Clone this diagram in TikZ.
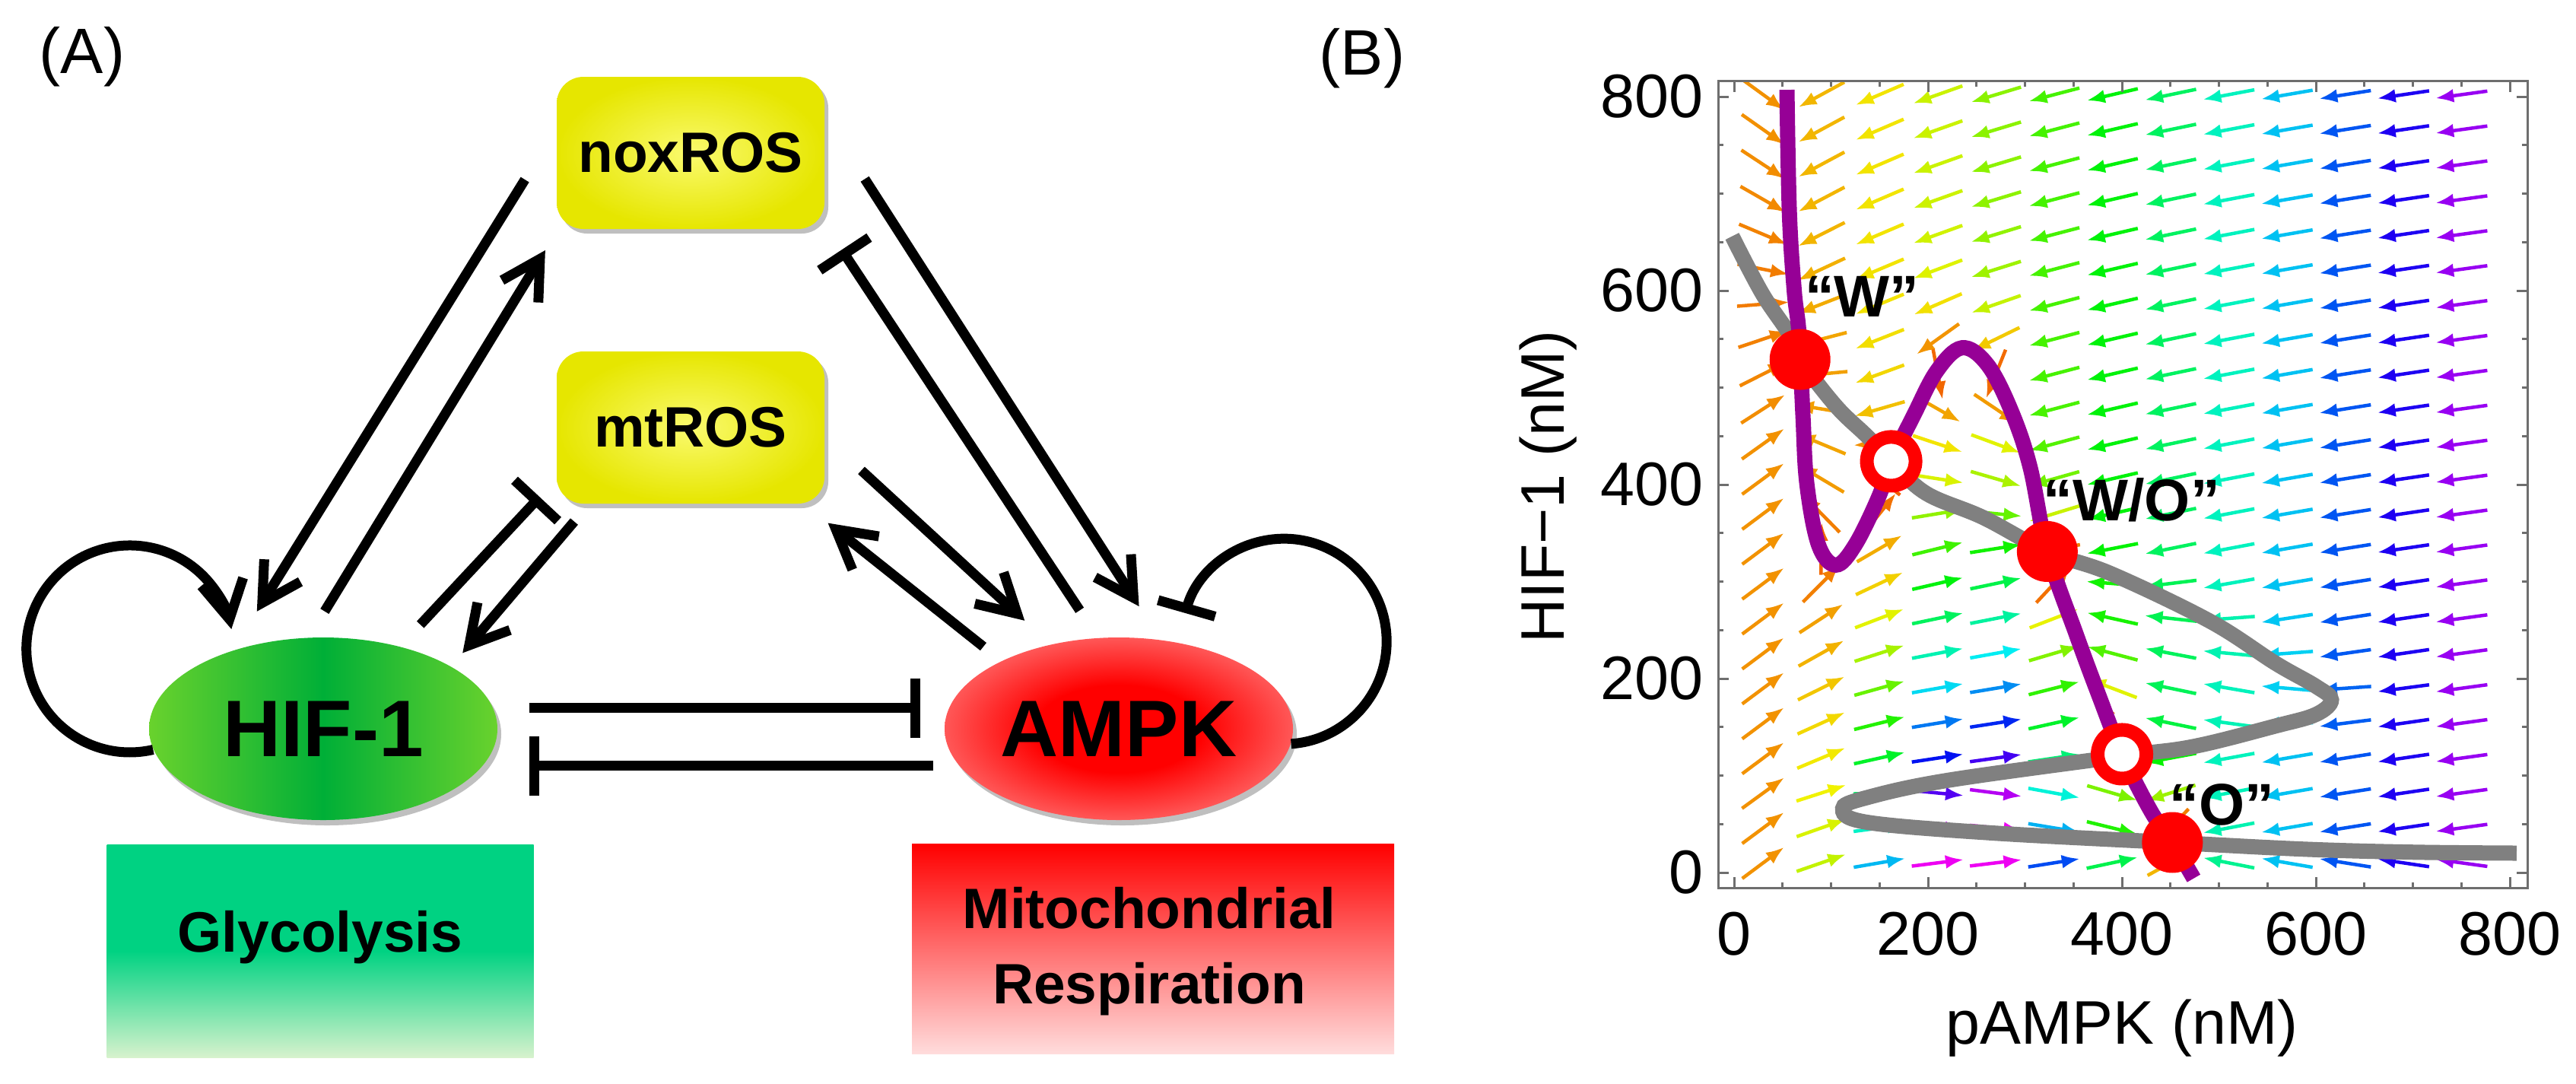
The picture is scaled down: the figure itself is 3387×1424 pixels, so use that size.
\documentclass[tikz,border=0pt]{standalone}
\usepackage{fontspec}
\setmainfont{Liberation Sans}
\usetikzlibrary{arrows.meta,shadows,shapes.geometric}

% colours that the shading needs
\definecolor{ampkred}{RGB}{255,0,0}
\definecolor{ampkpale}{RGB}{255,228,228}
\pgfdeclareradialshading{ampkglow}{\pgfpointorigin}{color(0bp)=(ampkred); color(12bp)=(ampkred); color(46bp)=(ampkpale); color(50bp)=(ampkpale)}

% piecewise linear lookup in a list of knots a/b
\newcommand\pwlookup[2]{%
  \gdef\pwres{0}\gdef\pwlx{-5000}\gdef\pwly{0}%
  \foreach \kx/\ky in #2 {%
    \ifdim #1pt<\kx pt\relax
      \ifdim #1pt<\pwlx pt\relax\else
        \pgfmathparse{\pwly+(\ky-(\pwly))/(\kx-(\pwlx))*(#1-(\pwlx))}%
        \xdef\pwres{\pgfmathresult}%
      \fi
    \fi
    \xdef\pwlx{\kx}\xdef\pwly{\ky}%
  }%
}
% pAMPK nullcline (as y of x) and HIF-1 nullcline (as x of y)
\def\purpleknots{-100/2000, 40/2000, 54/810, 57/680, 67/555, 71/471, 75/401, 87/338, 105/317, 125/338, 149/387, 162/424, 185/471, 209/517, 235/541, 261/524, 285/478, 305/419, 323/331, 353/245, 376/183, 400/122, 430/63, 452/31, 474/-6, 900/-1150}
\def\grayknots{-100/2500, 15/1000, 20/807, 23/590, 31/452, 41/263, 52/136, 66/112, 77/136, 95/220, 120/400, 130/474, 151/558, 178/616, 192/600, 216/558, 259/491, 308/389, 331/323, 366/257, 391/198, 424/162, 450/137, 481/105, 529/68, 555/57, 597/29, 656/-7, 900/-160}
% one short stream arrow at (#1,#2)
\newcommand\streamarrow[2]{%
  \pwlookup{#1}{\purpleknots}\let\yp\pwres
  \pwlookup{#2}{\grayknots}\let\gxn\pwres
  \pgfmathsetmacro\boost{0.004*max(0,min(900,\yp)-#2-100)*min(1,max(0,(#1-60)/80))}%
  \pgfmathsetmacro\vx{(0.35+#1/380)*tanh(max(-4,min(4,(\yp-#2)/60)))+\boost}%
  \pgfmathsetmacro\vy{0.32*tanh(max(-4,min(4,(\gxn-#1)/60)))}%
  \pgfmathsetmacro\spd{sqrt(\vx*\vx+\vy*\vy)}%
  \pgfmathsetmacro\ux{27*\vx/(\spd+0.0001)}%
  \pgfmathsetmacro\uy{27*\vy/(\spd+0.0001)}%
  \pgfmathsetmacro\hue{0.05+0.78*min(1,(\spd/2.45+0.001)^1.8)}%
  \pgfmathsetmacro\sxa{#1-\ux}\pgfmathsetmacro\sya{#2-\uy}%
  \pgfmathsetmacro\sxb{#1+\ux}\pgfmathsetmacro\syb{#2+\uy}%
  \definecolor{streamcol}{hsb}{\hue,1,0.95}%
  \draw[streamline, streamcol] (\sxa,\sya) -- (\sxb,\syb);%
}

\begin{document}
\begin{tikzpicture}[x=0.1mm, y=-0.1mm,
  every node/.style={align=center, inner sep=0pt},
  act/.style={line width=1.3mm, -{Straight Barb[length=5mm,width=5.6mm]}},
  inh/.style={line width=1.3mm, -{Bar[width=7.8mm]}},
  rosbox/.style={rectangle, rounded corners=3.5mm, minimum width=35.2mm, minimum height=20mm,
    inner color=rosin, outer color=rosout,
    drop shadow={shadow xshift=0.5mm, shadow yshift=-0.6mm, fill=black, opacity=0.25},
    font=\fontsize{21.3pt}{25pt}\selectfont\bfseries},
  hubnode/.style={ellipse, minimum width=45.8mm, minimum height=24mm,
    drop shadow={shadow xshift=0.5mm, shadow yshift=-0.7mm, fill=black, opacity=0.25},
    font=\fontsize{30pt}{34pt}\selectfont\bfseries},
  fatebox/.style={rectangle, font=\fontsize{21.3pt}{28.2pt}\selectfont\bfseries},
  panellab/.style={font=\fontsize{24pt}{28pt}\selectfont},
  ticklab/.style={font=\fontsize{23pt}{27pt}\selectfont},
  fplabel/.style={font=\fontsize{22pt}{26pt}\selectfont\bfseries},
  streamline/.style={line width=0.45mm, -{Latex[length=2.4mm,width=1.8mm]}},
  plotframe/.style={draw=framegray, line width=0.3mm},
  graycurve/.style={draw=nullgray, line width=2mm},
  purplecurve/.style={draw=nullpurple, line width=2mm}]
  % Define colors
  \definecolor{rosin}{RGB}{250,250,110}
  \definecolor{rosout}{RGB}{230,230,0}
  \definecolor{hifedge}{RGB}{105,210,45}
  \definecolor{hifmid}{RGB}{0,175,55}
  \definecolor{glytop}{RGB}{0,210,130}
  \definecolor{glybot}{RGB}{215,242,205}
  \definecolor{mitotop}{RGB}{255,0,0}
  \definecolor{mitobot}{RGB}{255,220,220}
  \definecolor{framegray}{RGB}{110,110,110}
  \definecolor{nullgray}{RGB}{128,128,128}
  \definecolor{nullpurple}{RGB}{150,0,150}
  \definecolor{fpred}{RGB}{255,0,0}

  \useasboundingbox (0,0) rectangle (3387,1424);

  % Panel titles
  \node[panellab] (titleA) at (108,75) {(A)};
  \node[panellab] (titleB) at (1791,77) {(B)};

  % ROS boxes
  \node[rosbox] (nox) at (908,201) {noxROS};
  \node[rosbox] (mt) at (908,562) {mtROS};

  % HIF-1 and AMPK
  \node[hubnode, left color=hifedge, right color=hifedge, middle color=hifmid] (hif) at (425,958) {HIF-1};
  \node[hubnode, shading=ampkglow] (ampk) at (1471,958) {AMPK};

  % Metabolic fates
  \node[fatebox, minimum width=56.1mm, minimum height=28mm, top color=glytop, bottom color=glybot, middle color=glytop] (glyco) at (421,1250) {};
  \node[fatebox] (glycotext) at (421,1232) {Glycolysis};
  \node[fatebox, minimum width=63.4mm, minimum height=27.6mm, top color=mitotop, bottom color=mitobot] (mito) at (1516,1247) {};
  \node[fatebox] (mitotext) at (1511,1251) {Mitochondrial\\Respiration};

  % noxROS links
  \draw[act, shorten <=7.8mm, shorten >=6mm] (nox.170) -- (hif.139);
  \draw[act, shorten <=4mm, shorten >=3.2mm] (hif.99) -- (nox.210);
  \draw[act, shorten <=9.7mm, shorten >=5.2mm] (nox.15) -- (ampk.65);
  \draw[inh, shorten <=4.3mm, shorten >=4mm] (ampk.103) -- (nox.332);

  % mtROS links
  \draw[inh, shorten <=3.9mm, shorten >=3.2mm] (hif.47) -- (mt.201);
  \draw[act, shorten <=3mm, shorten >=2.3mm] (mt.217) -- (hif.26);
  \draw[act, shorten <=6.5mm, shorten >=4.6mm] (mt.356) -- (ampk.129);
  \draw[act, shorten <=3mm, shorten >=4mm] (ampk.150) -- (mt.326);

  % mutual inhibition
  \draw[inh, shorten <=4.7mm, shorten >=3.7mm] (hif.7) -- (ampk.173);
  \draw[inh, shorten <=3.4mm, shorten >=6.1mm] (ampk.193) -- (hif.347);

  % self loops
  \draw[act] (hif.187) arc[start angle=77, end angle=349, radius=136];
  \draw[inh] (ampk.355) arc[start angle=86, end angle=-164, radius=135];

  % Phase plane
  \begin{scope}[shift={(2280,1147)}, x=0.1275mm, y=0.1275mm]
    % stream arrows
    \begin{scope}
      \clip (-16.5,-16) rectangle (818,816);
      \foreach \gx in {30,90,...,750} {
        \foreach \gy in {10,46,...,802} {
          \streamarrow{\gx}{\gy}
        }
      }
    \end{scope}

    % frame and ticks
    \draw[plotframe] (-16.5,-16) rectangle (818,816);
    \foreach \t in {0,50,...,800} {
      \pgfmathsetmacro\tl{ifthenelse(mod(\t,200)==0,11,5.5)}
      \draw[plotframe] (\t,-16) -- (\t,-16+\tl);
      \draw[plotframe] (\t,816) -- (\t,816-\tl);
      \draw[plotframe] (-16.5,\t) -- (-16.5+\tl,\t);
      \draw[plotframe] (818,\t) -- (818-\tl,\t);
    }
    \foreach \t in {0,200,...,800} {
      \node[ticklab, anchor=east] (ylab\t) at (-31,\t) {\t};
      \node[ticklab] (xlab\t) at (\t,-63.5) {\t};
    }

    % nullclines
    \draw[graycurve] plot[smooth, tension=0.6] coordinates {(-2,656) (29,597) (57,555) (68,529) (105,481) (137,450) (162,424) (198,391) (257,366) (323,331) (389,308) (491,259) (558,216) (600,192) (616,178) (600,163) (558,151) (474,130) (400,120) (220,95) (136,77) (112,66) (136,52) (263,41) (452,31) (590,24) (700,21) (807,20)};
    \draw[purplecurve] plot[smooth, tension=0.6] coordinates {(54.5,807) (57,681) (62,600) (67,555) (71,471) (75,401) (87,338) (105,317) (125,338) (149,387) (162,424) (185,471) (209,517) (235,541) (261,524) (285,478) (305,419) (323,331) (353,245) (376,183) (400,122) (430,63) (452,31) (474,-6)};

    % steady states
    \fill[fpred] (68,529) circle[radius=4mm];
    \fill[fpred] (323,331) circle[radius=4mm];
    \fill[fpred] (452,31) circle[radius=4mm];
    \draw[fpred, fill=white, line width=1.8mm] (162,424) circle[radius=3.2mm];
    \draw[fpred, fill=white, line width=1.8mm] (400,122) circle[radius=3.2mm];
    \node[fplabel] (wlab) at (132,594) {“W”};
    \node[fplabel] (wolab) at (410,384) {“W/O”};
    \node[fplabel] (olab) at (503,70) {“O”};
  \end{scope}

  % Axis titles
  \node[ticklab, rotate=90] (ytitle) at (2036,640) {HIF−1 (nM)};
  \node[ticklab] (xtitle) at (2790,1352) {pAMPK (nM)};
\end{tikzpicture}
\end{document}
